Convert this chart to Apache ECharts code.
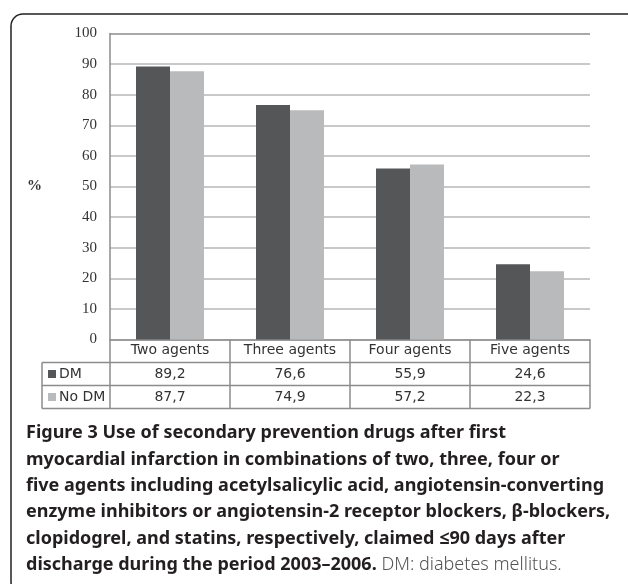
<!DOCTYPE html>
<html>
<head>
<meta charset="utf-8">
<script src="https://cdn.jsdelivr.net/npm/echarts@6/dist/echarts.min.js"></script>
<style>
  html, body { margin: 0; padding: 0; background: #fff; }
  #chart { width: 628px; height: 584px; }
</style>
</head>
<body>
<div id="chart"></div>
<script>
// data
var categories = ['Two agents', 'Three agents', 'Four agents', 'Five agents'];
var seriesNames = ['DM', 'No DM'];
var dmValues = [89.2, 76.6, 55.9, 24.6];
var noDmValues = [87.7, 74.9, 57.2, 22.3];
var captionBold = [
  'Figure 3 Use of secondary prevention drugs after first',
  'myocardial infarction in combinations of two, three, four or',
  'five agents including acetylsalicylic acid, angiotensin-converting',
  'enzyme inhibitors or angiotensin-2 receptor blockers, \u03b2-blockers,',
  'clopidogrel, and statins, respectively, claimed \u226490 days after',
  'discharge during the period 2003\u20132006.'
];
var captionTail = ' DM: diabetes mellitus.';

var colors = ['#555658', '#b9babc'];
var serif = '"Liberation Serif", "DejaVu Serif", serif';
var sans = '"DejaVu Sans", Verdana, sans-serif';
var capFont = '"Noto Sans", "Open Sans", sans-serif';

function fmt(v) { return v.toFixed(1).replace('.', ','); }

var myChart = echarts.init(document.getElementById('chart'));

// grid lines: last one (100) a bit darker
var gridColors = [];
for (var i = 0; i < 10; i++) gridColors.push('#b7b7b7');
gridColors.push('#8c8c8c');

var option = {
  animation: false,
  grid: { left: 110, right: 38, top: 33.5, bottom: 244.5, containLabel: false },
  xAxis: {
    type: 'category',
    data: categories,
    axisLine: { lineStyle: { color: '#8c8c8c', width: 1.5 } },
    axisTick: { show: false },
    axisLabel: { margin: 4, fontFamily: sans, fontSize: 14, color: '#333' }
  },
  yAxis: {
    type: 'value',
    min: 0, max: 100, interval: 10,
    name: '%',
    nameLocation: 'middle',
    nameGap: 68,
    nameRotate: 0,
    nameTextStyle: { fontFamily: serif, fontSize: 15, fontWeight: 'bold', color: '#333' },
    axisLine: { show: true, lineStyle: { color: '#8c8c8c', width: 1.5 } },
    axisTick: { show: false },
    axisLabel: { margin: 13, fontFamily: serif, fontSize: 15, color: '#333' },
    splitLine: { lineStyle: { color: gridColors, width: 1.5 } }
  },
  series: [
    { name: seriesNames[0], type: 'bar', data: dmValues, barWidth: 34, barGap: '0%',
      itemStyle: { color: colors[0] } },
    { name: seriesNames[1], type: 'bar', data: noDmValues, barWidth: 34, barGap: '0%',
      itemStyle: { color: colors[1] } }
  ]
};
myChart.setOption(option);

// data table under the axis + caption, placed from the axis layout
var y0 = myChart.convertToPixel({ yAxisIndex: 0 }, 0);
var xL = myChart.convertToPixel({ xAxisIndex: 0 }, 0) - 60;
var step = myChart.convertToPixel({ xAxisIndex: 0 }, 1) - myChart.convertToPixel({ xAxisIndex: 0 }, 0);
var xR = xL + step * categories.length;
var rowH = 23;
var legendL = 42;
var lineCol = '#8c8c8c';
var g = [];

// frame
g.push({ type: 'rect', shape: { x: 11, y: 14, width: 640, height: 580, r: 12 },
  style: { fill: 'none', stroke: '#222', lineWidth: 1.5 }, z: 0 });

function hline(x1, x2, y) {
  g.push({ type: 'line', shape: { x1: x1, y1: y, x2: x2, y2: y },
    style: { stroke: lineCol, lineWidth: 1.5 }, z: 10 });
}
function vline(x, y1, y2) {
  g.push({ type: 'line', shape: { x1: x, y1: y1, x2: x, y2: y2 },
    style: { stroke: lineCol, lineWidth: 1.5 }, z: 10 });
}
hline(legendL, xR, y0 + rowH);
hline(legendL, xR, y0 + rowH * 2);
hline(legendL, xR, y0 + rowH * 3);
vline(legendL, y0 + rowH, y0 + rowH * 3);
for (var c = 0; c <= categories.length; c++) {
  vline(xL + step * c, y0, y0 + rowH * 3);
}

var rows = [dmValues, noDmValues];
rows.forEach(function (vals, r) {
  var cy = y0 + rowH * (r + 1) + rowH / 2;
  g.push({ type: 'rect', shape: { x: legendL + 6, y: cy - 4, width: 8, height: 8 },
    style: { fill: colors[r] }, z: 10 });
  g.push({ type: 'text', x: legendL + 17, y: cy,
    style: { text: seriesNames[r], font: '14px ' + sans, fill: '#333', verticalAlign: 'middle' }, z: 10 });
  vals.forEach(function (v, c) {
    g.push({ type: 'text', x: xL + step * c + step / 2, y: cy,
      style: { text: fmt(v), font: '14px ' + sans, fill: '#333', align: 'center', verticalAlign: 'middle' }, z: 10 });
  });
});

// caption
var capY = 433, capStep = 26.4;
captionBold.forEach(function (line, i) {
  var last = i === captionBold.length - 1;
  g.push({ type: 'text', x: 26, y: capY + capStep * i,
    style: {
      text: '{b|' + line + '}' + (last ? '{n|' + captionTail + '}' : ''),
      verticalAlign: 'middle',
      rich: {
        b: { fontFamily: capFont, fontSize: 18, fontWeight: 'bold', fill: '#231f20' },
        n: { fontFamily: capFont, fontSize: 18, fontWeight: 300, fill: '#555' }
      }
    }, z: 10 });
});

myChart.setOption({ graphic: g });
</script>
</body>
</html>
